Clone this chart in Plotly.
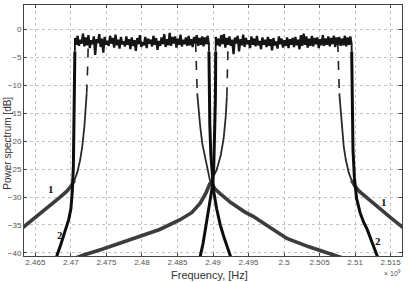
import numpy as np
import plotly.graph_objects as go

# ---------------- data ----------------
x_ticks = [2.465, 2.47, 2.475, 2.48, 2.485, 2.49, 2.495, 2.5, 2.505, 2.51, 2.515]
x_tick_text = ["2.465", "2.47", "2.475", "2.48", "2.485", "2.49", "2.495", "2.5", "2.505", "2.51", "2.515"]
y_ticks = [-40, -35, -30, -25, -20, -15, -10, -5, 0]

# noisy flat top of the two channels (solid spectrum)
ch1_top_start, ch1_top_end = 2.47056, 2.48943
ch2_top_start, ch2_top_end = 2.49038, 2.50952
ch1_top_db = [
    -1.6, -2.8, -1.2, -3.0, -1.9, -2.6, -0.8, -3.1, -1.5, -2.9,
    -1.1, -3.4, -2.0, -2.7, -1.3, -4.6, -1.8, -2.5, -0.9, -3.2,
    -1.7, -4.2, -1.4, -2.8, -2.1, -3.0, -1.2, -2.6, -1.6, -3.3,
    -1.0, -2.9, -1.9, -3.5, -1.4, -2.7, -2.2, -3.1, -1.3, -2.8,
    -1.8, -3.6, -1.5, -3.0, -2.0, -3.9, -1.6, -2.7, -1.1, -3.2,
    -2.3, -2.9, -1.4, -3.4, -1.7, -2.6, -1.9, -3.1, -1.2, -2.8,
    -1.6, -3.7, -2.1, -3.0, -1.5, -2.7, -0.9, -3.2, -1.8, -2.9,
    -0.7, -3.0, -1.4, -2.6, -1.3, -3.3, -1.7, -2.8, -1.0, -3.1,
    -1.9, -2.7, -1.5, -3.0, -1.2, -2.9, -1.8, -3.2, -1.4, -2.6,
    -1.1, -3.0, -1.6, -2.8, -1.3, -3.1, -1.5, -2.7, -1.2, -2.9,
]
ch2_top_db = [
    -1.4, -2.9, -1.7, -3.1, -1.1, -2.7, -0.9, -3.3, -1.6, -2.8,
    -1.3, -3.0, -1.9, -4.5, -1.5, -2.6, -1.2, -4.0, -1.8, -2.9,
    -1.0, -3.2, -1.6, -2.7, -2.0, -3.4, -1.3, -2.8, -1.7, -3.1,
    -1.2, -2.9, -2.1, -3.6, -1.5, -2.8, -1.9, -3.2, -1.4, -3.0,
    -1.8, -3.8, -1.6, -2.9, -2.2, -3.5, -1.3, -2.7, -1.7, -3.3,
    -2.0, -3.0, -1.5, -3.4, -1.8, -2.8, -1.6, -3.2, -1.4, -2.9,
    -1.9, -3.6, -1.1, -3.0, -0.8, -2.8, -1.3, -3.3, -1.7, -3.0,
    -1.2, -3.1, -1.6, -2.7, -1.5, -3.4, -1.8, -2.9, -1.1, -3.0,
    -1.7, -2.8, -1.3, -3.1, -1.6, -2.7, -1.2, -3.2, -1.5, -2.8,
    -1.4, -3.0, -1.7, -2.9, -1.2, -3.1, -1.5, -2.8, -1.3, -2.9,
]

# curve 1 (wide skirts): thick skirt, thin rise, dashed top part
c1_ch1_left_f = [2.4630, 2.4650, 2.4665, 2.4675, 2.4684, 2.4694, 2.4700, 2.4705]
c1_ch1_left_db = [-35.7, -33.7, -32.1, -31.0, -30.1, -29.0, -28.1, -27.0]
c1_ch1_left_thin_f = [2.4705, 2.4709, 2.4713, 2.4716, 2.4719, 2.4721, 2.47222]
c1_ch1_left_thin_db = [-27.0, -25.6, -23.4, -21.0, -17.4, -13.5, -11.5]
c1_ch1_left_dash_f = [2.47222, 2.4723, 2.47238, 2.47244]
c1_ch1_left_dash_db = [-11.5, -9.7, -6.0, -2.5]

c1_ch1_right_dash_f = [2.48756, 2.48762, 2.4877, 2.48778]
c1_ch1_right_dash_db = [-2.5, -6.0, -9.7, -11.5]
c1_ch1_right_thin_f = [2.48778, 2.4879, 2.4882, 2.4885, 2.4891, 2.4896]
c1_ch1_right_thin_db = [-11.5, -13.5, -17.4, -20.5, -24.5, -27.2]
c1_ch1_right_f = [2.4896, 2.4903, 2.4910, 2.4925, 2.4945, 2.4957, 2.4975, 2.5004, 2.5035, 2.5069, 2.5090]
c1_ch1_right_db = [-27.2, -28.6, -29.4, -31.0, -32.7, -33.5, -35.0, -37.4, -38.9, -40.3, -41.2]

c1_ch2_left_f = [2.4700, 2.4717, 2.4745, 2.4775, 2.4797, 2.4825, 2.4853, 2.4870, 2.4882, 2.4890, 2.4896]
c1_ch2_left_db = [-41.2, -40.4, -39.3, -38.0, -37.1, -35.8, -34.1, -32.8, -31.1, -29.3, -27.5]
c1_ch2_left_thin_f = [2.4896, 2.4905, 2.4911, 2.4915, 2.4918, 2.49195]
c1_ch2_left_thin_db = [-27.5, -25.2, -22.5, -19.5, -15.5, -12.0]
c1_ch2_left_dash_f = [2.49195, 2.49203, 2.49208, 2.49212]
c1_ch2_left_dash_db = [-12.0, -9.0, -6.0, -2.5]

c1_ch2_right_dash_f = [2.50756, 2.50762, 2.5077, 2.50778]
c1_ch2_right_dash_db = [-2.5, -6.0, -9.7, -11.5]
c1_ch2_right_thin_f = [2.50778, 2.5079, 2.5081, 2.5084, 2.5087, 2.5091, 2.5095]
c1_ch2_right_thin_db = [-11.5, -13.5, -17.4, -21.0, -23.4, -25.6, -27.0]
c1_ch2_right_f = [2.5095, 2.5100, 2.5106, 2.5116, 2.5125, 2.5135, 2.5150, 2.5170]
c1_ch2_right_db = [-27.0, -28.1, -29.0, -30.1, -31.0, -32.1, -33.7, -35.7]

# curve 2 (steep skirts)
c2_ch1_left_f = [2.4677, 2.4680, 2.4686, 2.4692, 2.4697, 2.4700, 2.4702, 2.47035, 2.47042, 2.47048, 2.47052, 2.47056]
c2_ch1_left_db = [-41.5, -40.6, -38.4, -36.1, -34.0, -32.1, -28.9, -24.5, -18.6, -13.5, -9.7, -4.0]
c2_ch1_right_f = [2.48943, 2.48947, 2.48955, 2.4897, 2.4899, 2.4901, 2.4905, 2.4910, 2.4915, 2.4920, 2.4924, 2.4927]
c2_ch1_right_db = [-4.0, -10.0, -17.0, -22.5, -26.5, -29.0, -32.0, -34.9, -37.0, -39.0, -40.6, -41.5]
c2_ch2_left_f = [2.4879, 2.4882, 2.4886, 2.4890, 2.4894, 2.4897, 2.4899, 2.4901, 2.49025, 2.49033, 2.49036, 2.49038]
c2_ch2_left_db = [-41.5, -40.6, -38.3, -35.3, -32.4, -30.0, -28.2, -25.0, -19.0, -13.0, -9.0, -4.0]
c2_ch2_right_f = [2.50952, 2.50956, 2.50962, 2.5097, 2.5099, 2.5102, 2.5107, 2.5112, 2.5117, 2.5124, 2.5131, 2.5134]
c2_ch2_right_db = [-4.0, -10.0, -16.0, -21.5, -26.5, -30.2, -32.8, -34.5, -35.8, -38.0, -40.3, -41.5]

# curve number labels
label_text = ["1", "2", "1", "2"]
label_f = [2.46718, 2.46845, 2.51409, 2.51324]
label_db = [-28.6, -36.8, -30.9, -37.8]

# ---------------- figure ----------------
fig = go.Figure()

C1 = "#3c3c3c"
C2 = "#0e0e0e"


def add(xs, ys, color, width, dash="solid"):
    fig.add_trace(go.Scatter(x=xs, y=ys, mode="lines", showlegend=False,
                             hoverinfo="skip",
                             line=dict(color=color, width=width, dash=dash)))


# curve 1
for f, d in [(c1_ch1_left_f, c1_ch1_left_db), (c1_ch1_right_f, c1_ch1_right_db),
             (c1_ch2_left_f, c1_ch2_left_db), (c1_ch2_right_f, c1_ch2_right_db)]:
    add(f, d, C1, 3.6)
for f, d in [(c1_ch1_left_thin_f, c1_ch1_left_thin_db), (c1_ch1_right_thin_f, c1_ch1_right_thin_db),
             (c1_ch2_left_thin_f, c1_ch2_left_thin_db), (c1_ch2_right_thin_f, c1_ch2_right_thin_db)]:
    add(f, d, "#2a2a2a", 1.8)
for f, d in [(c1_ch1_left_dash_f, c1_ch1_left_dash_db), (c1_ch1_right_dash_f, c1_ch1_right_dash_db),
             (c1_ch2_left_dash_f, c1_ch2_left_dash_db), (c1_ch2_right_dash_f, c1_ch2_right_dash_db)]:
    add(f, d, "#222222", 1.6, "dash")

# curve 2 skirts
for f, d in [(c2_ch1_left_f, c2_ch1_left_db), (c2_ch1_right_f, c2_ch1_right_db),
             (c2_ch2_left_f, c2_ch2_left_db), (c2_ch2_right_f, c2_ch2_right_db)]:
    add(f, d, C2, 3.0)

# noisy tops
ch1_f = np.linspace(ch1_top_start, ch1_top_end, len(ch1_top_db))
ch2_f = np.linspace(ch2_top_start, ch2_top_end, len(ch2_top_db))
add(list(ch1_f), ch1_top_db, "#151515", 2.3)
add(list(ch2_f), ch2_top_db, "#151515", 2.3)
add([ch1_top_start, ch1_top_start], [c2_ch1_left_db[-1], ch1_top_db[0]], "#111111", 1.8)
add([ch1_top_end, ch1_top_end], [c2_ch1_right_db[0], ch1_top_db[-1]], "#111111", 1.8)
add([ch2_top_start, ch2_top_start], [c2_ch2_left_db[-1], ch2_top_db[0]], "#111111", 1.8)
add([ch2_top_end, ch2_top_end], [c2_ch2_right_db[0], ch2_top_db[-1]], "#111111", 1.8)

for t, f, d in zip(label_text, label_f, label_db):
    fig.add_annotation(x=f, y=d, text="<b>" + t + "</b>", showarrow=False,
                       font=dict(family="Liberation Serif", size=11, color="#111111"),
                       xanchor="center", yanchor="middle")

axis_common = dict(showline=True, mirror="ticks", linecolor="#444", linewidth=1,
                   ticks="inside", ticklen=3, tickcolor="#444",
                   showgrid=True, gridcolor="#c4c4c4", griddash="dot", gridwidth=1,
                   zeroline=False,
                   tickfont=dict(family="Liberation Sans", size=8, color="#555"))

fig.update_xaxes(range=[2.4634, 2.5166], tickvals=x_ticks, ticktext=x_tick_text,
                 ticklabelstandoff=-2, **axis_common)
fig.update_yaxes(range=[-40.54, 4.3], tickvals=y_ticks, **axis_common)

fig.add_annotation(xref="paper", yref="paper", x=-0.046, y=0.45, text="Power spectrum [dB]",
                   textangle=-90, showarrow=False, xanchor="center", yanchor="middle",
                   font=dict(family="Liberation Sans", size=10, color="#333"))
fig.add_annotation(xref="paper", yref="paper", x=0.492, y=-0.076, text="Frequency, [Hz]",
                   showarrow=False, xanchor="center", yanchor="middle",
                   font=dict(family="Liberation Sans", size=11, color="#333"))
fig.add_annotation(xref="paper", yref="paper", x=0.974, y=-0.068, text="× 10<sup>9</sup>",
                   showarrow=False, xanchor="center", yanchor="middle",
                   font=dict(family="Liberation Sans", size=7, color="#555"))

fig.update_layout(width=416, height=282, margin=dict(l=24, r=14, t=5, b=26),
                  paper_bgcolor="white", plot_bgcolor="white")

fig.write_html("out.html")
